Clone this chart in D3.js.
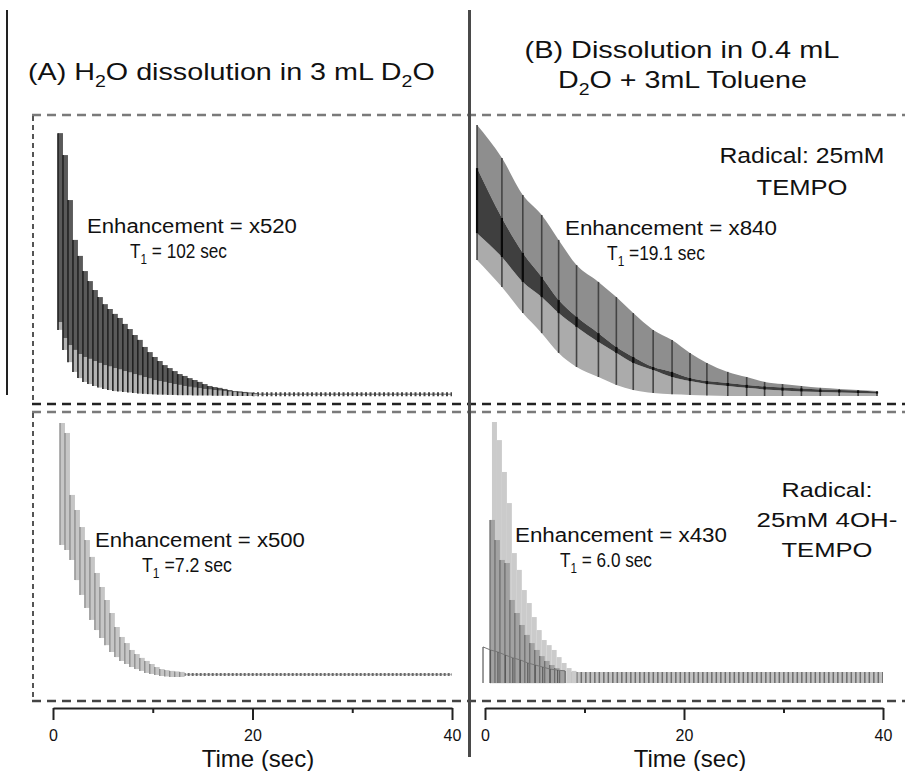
<!DOCTYPE html>
<html><head><meta charset="utf-8">
<script src="https://cdnjs.cloudflare.com/ajax/libs/d3/7.8.5/d3.min.js"></script>
<style>html,body{margin:0;padding:0;background:#fff;} svg{display:block;} text{font-family:"Liberation Sans",Arial,Helvetica,sans-serif;}</style>
</head><body><svg id="c" width="905" height="771"></svg>
<script>
// ---------- DATA ----------
const xTicks = [0, 10, 20, 30, 40];
const xTickLabels = ["0", "", "20", "", "40"];
const majorTicks = [0, 20, 40];
const xLabel = "Time (sec)";

// Panel A top: H2O in 3 mL D2O (spectra every ~0.5 s)
const aTopT  = [0.5,1,1.5,2,2.5,3,3.5,4,4.5,5,5.5,6,6.5,7,7.5,8,8.5,9,9.5,10,10.5,11,11.5,12,12.5,13,13.5,14,14.5,15,15.5,16,16.5,17,17.5,18,18.5,19,19.5,20];
const aTopHi = [97.0,88.9,72.3,57.6,51.7,46.1,42.4,39.1,36.5,33.9,32.1,30.3,28.8,26.6,24.7,22.5,20.7,18.1,16.2,14.4,12.9,11.4,10.3,9.2,8.1,7.4,6.6,5.9,5.2,4.4,3.7,3.3,3.0,2.6,2.2,1.8,1.7,1.5,1.3,1.1];
const aTopLo = [27.3,21.4,18.8,17.0,15.5,14.4,13.7,12.9,12.2,11.4,10.9,10.3,9.8,9.2,8.7,8.1,7.6,7.0,6.5,5.9,5.5,5.2,4.8,4.4,4.1,3.7,3.4,3.1,2.9,2.6,2.4,2.2,2.0,1.8,1.6,1.4,1.2,1.0,0.9,0.8];
const aTopFl = [24.4,17.0,12.5,8.9,6.6,5.2,4.4,3.7,3.1,2.6,2.2,1.8,1.7,1.5,1.3,1.1,0.9,0.8,0.7,0.6,0.5,0.5,0.4,0.4,0.3,0.3,0.3,0.2,0.2,0.2,0.2,0.1,0.1,0.1,0.1,0,0,0,0,0];
const aTopTail = [20, 40, 0.6];

// Panel A bottom
const aBotT  = [0.7,1.2,1.7,2.2,2.7,3.2,3.7,4.2,4.7,5.2,5.7,6.2,6.7,7.2,7.7,8.2,8.7,9.2,9.7,10.2,10.7,11.2,11.7,12.2,12.7];
const aBotHi = [99.6,95.7,71.4,65.5,58.8,53.7,47.1,40.8,35.3,30.2,25.1,19.6,15.7,13.3,10.6,9.0,7.5,6.3,5.1,3.9,3.1,2.7,2.4,2.2,2.0];
const aBotLo = [51.8,49.8,45.9,38.0,32.2,27.1,22.4,18.4,15.3,12.5,9.8,7.8,6.3,5.1,3.9,3.1,2.4,1.6,1.2,0.8,0.4,0.2,0,0,0];
const aBotTail = [12.7, 40, 1.0];

// Panel B top: three bands
const bTopT   = [-0.8,1.7,3.8,5.7,7.4,9.2,11.4,13.2,14.9,16.9,18.8,20.6,22.3,24.4,26.3,28.1,29.9,31.8,33.7,35.6,37.5,39.4];
const bTopHi  = [100,87.8,74.2,66.8,57.6,48.3,42.1,36.5,30.6,24.4,20.7,15.9,12.2,8.9,7.0,5.2,4.4,3.7,3.0,2.6,2.2,1.8];
const bTopDkT = [84.1,65.7,52.8,43.9,35.4,29.2,23.2,18.1,14.4,10.7,8.9,6.6,5.5,4.8,4.1,3.5,3.1,2.8,2.4,2.2,2.0,1.6];
const bTopDkB = [60.1,51.3,42.1,36.5,30.6,25.5,19.9,15.9,12.2,9.6,7.0,5.5,4.4,3.7,3.0,2.4,2.0,1.7,1.5,1.3,1.1,0.9];
const bTopLo  = [50.2,40.2,30.6,23.2,15.9,10.7,7.0,4.1,2.2,1.1,0.6,0.4,0.2,0,0,0,0,0,0,0,0,0];

// Panel B bottom
const bBotLT = [0.7,1.2,1.7,2.2,2.7,3.2,3.7,4.2,4.7,5.2,5.7,6.2,6.7,7.2,7.7,8.2,8.7];
const bBotL  = [100,92.9,80.4,68.2,48.6,42.0,34.1,29.0,23.5,18.4,14.5,12.5,10.6,7.8,5.5,3.5,2.4];
const bBotMT = [0.5,1,1.5,2,2.5,3,3.5,4,4.5,5,5.5,6,6.5,7,7.5];
const bBotM  = [61.6,53.7,45.9,44.7,30.2,25.1,20.4,16.5,13.3,10.6,8.2,6.3,4.7,3.5,2.7];
const bBotDT = [-0.2,0.55,1.3,2.05,2.8,3.55,4.3,5.05,5.8,6.55,7.3,8.05];
const bBotD  = [11.8,10.6,9.8,8.6,7.5,6.7,5.5,4.7,3.9,3.1,2.7,2.4];
const bBotFloor = -2.4;
const bBotNoise = [8.7, 40, -2.4, 2.0];

// ---------- DRAW ----------
const svg = d3.select('#c');
const xL = d3.scaleLinear().domain([0,40]).range([53,452]);
const xR = d3.scaleLinear().domain([0,40]).range([485,883]);
const yT = d3.scaleLinear().domain([0,100]).range([396,125]);
const yB = d3.scaleLinear().domain([0,100]).range([677,422]);

// frames
const fr = svg.append('g');
function hdash(y,x1,x2,c,w){fr.append('line').attr('x1',x1).attr('x2',x2).attr('y1',y).attr('y2',y).attr('stroke',c).attr('stroke-width',w).attr('stroke-dasharray','9,6');}
function vdash(x,y1,y2){fr.append('line').attr('x1',x).attr('x2',x).attr('y1',y1).attr('y2',y2).attr('stroke','#555').attr('stroke-width',2).attr('stroke-dasharray','5,4');}
hdash(115,32,905,'#7a7a7a',2.5);
hdash(404,32,905,'#222',2.5);
hdash(412,32,905,'#7a7a7a',2.5);
hdash(701,32,905,'#444',2.5);
vdash(33,116,403); vdash(33,413,700);
fr.append('line').attr('x1',469.5).attr('x2',469.5).attr('y1',10).attr('y2',757).attr('stroke','#4a4a4a').attr('stroke-width',3);
fr.append('line').attr('x1',7).attr('x2',7).attr('y1',10).attr('y2',395).attr('stroke','#222').attr('stroke-width',2);

function stepW(T,i,x){ const t2 = i<T.length-1 ? T[i+1] : T[i]+(T[i]-T[i-1]); return x(t2)-x(T[i]); }

// Panel A top
const gA1 = svg.append('g');
gA1.append('line').attr('x1',xL(aTopTail[0])).attr('x2',xL(aTopTail[1])).attr('y1',yT(aTopTail[2])).attr('y2',yT(aTopTail[2])).attr('stroke','#999').attr('stroke-width',1.5);
gA1.append('line').attr('x1',xL(aTopTail[0])).attr('x2',xL(aTopTail[1])).attr('y1',yT(aTopTail[2])).attr('y2',yT(aTopTail[2])).attr('stroke','#444').attr('stroke-width',4).attr('stroke-dasharray','2,2.5');
aTopT.forEach((t,i)=>{
  const w = stepW(aTopT,i,xL);
  gA1.append('rect').attr('x',xL(t)).attr('width',w).attr('y',yT(aTopLo[i])).attr('height',yT(aTopFl[i])-yT(aTopLo[i])).attr('fill','#b3b3b3');
  gA1.append('rect').attr('x',xL(t)).attr('width',w).attr('y',yT(aTopHi[i])).attr('height',yT(aTopLo[i])-yT(aTopHi[i])).attr('fill','#5a5a5a');
});
aTopT.forEach((t,i)=>{
  gA1.append('line').attr('x1',xL(t)).attr('x2',xL(t)).attr('y1',yT(aTopHi[i])).attr('y2',yT(aTopFl[i])).attr('stroke','#222').attr('stroke-width',1.6);
});

// Panel A bottom
const gA2 = svg.append('g');
gA2.append('line').attr('x1',xL(aBotTail[0])).attr('x2',xL(aBotTail[1])).attr('y1',yB(aBotTail[2])).attr('y2',yB(aBotTail[2])).attr('stroke','#bbb').attr('stroke-width',1.5);
gA2.append('line').attr('x1',xL(aBotTail[0])).attr('x2',xL(aBotTail[1])).attr('y1',yB(aBotTail[2])).attr('y2',yB(aBotTail[2])).attr('stroke','#6a6a6a').attr('stroke-width',3).attr('stroke-dasharray','2,2');
aBotT.forEach((t,i)=>{
  const w = stepW(aBotT,i,xL);
  gA2.append('rect').attr('x',xL(t)).attr('width',w).attr('y',yB(aBotHi[i])).attr('height',yB(aBotLo[i])-yB(aBotHi[i])).attr('fill','#c6c6c6');
});
aBotT.forEach((t,i)=>{
  gA2.append('line').attr('x1',xL(t)).attr('x2',xL(t)).attr('y1',yB(aBotHi[i])).attr('y2',yB(aBotLo[i])).attr('stroke','#8a8a8a').attr('stroke-width',1.3);
});

// Panel B top
const gB1 = svg.append('g');
const idx = d3.range(bTopT.length);
const ar = (a0,a1)=>d3.area().x(i=>xR(bTopT[i])).y0(i=>yT(a0[i])).y1(i=>yT(a1[i])).curve(d3.curveMonotoneX);
gB1.append('path').attr('d',ar(bTopDkT,bTopHi)(idx)).attr('fill','#8e8e8e');
gB1.append('path').attr('d',ar(bTopLo,bTopDkB)(idx)).attr('fill','#ababab');
gB1.append('path').attr('d',ar(bTopDkB,bTopDkT)(idx)).attr('fill','#3f3f3f');
bTopT.forEach((t,i)=>{
  gB1.append('line').attr('x1',xR(t)).attr('x2',xR(t)).attr('y1',yT(bTopHi[i])).attr('y2',yT(bTopLo[i])).attr('stroke','#444').attr('stroke-width',1.6);
  gB1.append('line').attr('x1',xR(t)).attr('x2',xR(t)).attr('y1',yT(bTopDkT[i])).attr('y2',yT(bTopDkB[i])).attr('stroke','#0a0a0a').attr('stroke-width',2.2);
});

// Panel B bottom
const gB2 = svg.append('g');
const nY = (yB(bBotNoise[2])+yB(bBotNoise[3]))/2, nW = yB(bBotNoise[2])-yB(bBotNoise[3]);
gB2.append('line').attr('x1',xR(bBotNoise[0])).attr('x2',xR(bBotNoise[1])).attr('y1',nY).attr('y2',nY).attr('stroke','#c2c2c2').attr('stroke-width',nW);
gB2.append('line').attr('x1',xR(bBotNoise[0])).attr('x2',xR(bBotNoise[1])).attr('y1',nY).attr('y2',nY).attr('stroke','#6e6e6e').attr('stroke-width',nW).attr('stroke-dasharray','1.5,3');
bBotLT.forEach((t,i)=>{
  const w = stepW(bBotLT,i,xR);
  gB2.append('rect').attr('x',xR(t)).attr('width',w).attr('y',yB(bBotL[i])).attr('height',yB(bBotFloor)-yB(bBotL[i])).attr('fill','#cbcbcb');
});
bBotMT.forEach((t,i)=>{
  const w = stepW(bBotMT,i,xR);
  gB2.append('rect').attr('x',xR(t)).attr('width',w).attr('y',yB(bBotM[i])).attr('height',yB(bBotFloor)-yB(bBotM[i])).attr('fill','#a2a2a2');
  gB2.append('line').attr('x1',xR(t)).attr('x2',xR(t)).attr('y1',yB(bBotM[i])).attr('y2',yB(bBotFloor)).attr('stroke','#6a6a6a').attr('stroke-width',1.2);
});
gB2.append('path').attr('d',d3.line().x(i=>xR(bBotDT[i])).y(i=>yB(bBotD[i]))(d3.range(bBotDT.length))).attr('fill','none').attr('stroke','#777').attr('stroke-width',1);
bBotDT.forEach((t,i)=>{
  gB2.append('line').attr('x1',xR(t)).attr('x2',xR(t)).attr('y1',yB(bBotD[i])).attr('y2',yB(bBotFloor)).attr('stroke','#5a5a5a').attr('stroke-width',1.2);
});

// axes
function drawAxis(x, cx){
  const ax = d3.axisBottom(x).tickValues(xTicks).tickSizeOuter(0).tickSize(0).tickFormat((d,i)=>xTickLabels[i]);
  const g = svg.append('g').attr('transform','translate(0,708)').call(ax);
  g.select('.domain').attr('stroke','#222').attr('stroke-width',2);
  g.selectAll('.tick line').attr('y2',d=>majorTicks.includes(d)?12:5).attr('stroke','#222').attr('stroke-width',2);
  g.selectAll('.tick text').attr('y',33).attr('dy',0).attr('font-size',16).attr('fill','#111').attr('font-family','"Liberation Sans",Arial,sans-serif');
  svg.append('text').attr('x',cx).attr('y',767).attr('text-anchor','middle').attr('font-size',24).attr('fill','#111').text(xLabel);
}
drawAxis(xL, 258);
drawAxis(xR, 690);

// texts
function fitText(parts, x, y, size, width, anchor){
  const t = svg.append('text').attr('font-size',size).attr('fill','#111');
  let shift = 0;
  parts.forEach(p=>{
    if (typeof p === 'string'){ const s=t.append('tspan').text(p); if(shift){s.attr('dy',-shift); shift=0;} }
    else { shift = size*0.28; t.append('tspan').attr('font-size',size*0.68).attr('dy',shift).text(p.sub); }
  });
  const bb = t.node().getBBox();
  const sx = width/bb.width;
  const left = anchor==='middle' ? x-width/2 : x;
  t.attr('transform',`translate(${left-bb.x*sx},${y}) scale(${sx},1)`);
}
fitText(["(A) H",{sub:"2"},"O dissolution in 3 mL D",{sub:"2"},"O"], 28, 80, 24, 407);
fitText(["(B) Dissolution in 0.4 mL"], 682, 58, 24, 315, 'middle');
fitText(["D",{sub:"2"},"O + 3mL Toluene"], 682.5, 88, 24, 249, 'middle');
fitText(["Radical: 25mM"], 802, 163, 22, 165, 'middle');
fitText(["TEMPO"], 802, 195, 22, 91, 'middle');
fitText(["Enhancement = x520"], 87, 233, 21, 210);
fitText(["T",{sub:"1"}," = 102 sec"], 130, 258, 21, 97);
fitText(["Enhancement = x840"], 565, 235, 21, 212);
fitText(["T",{sub:"1"}," =19.1 sec"], 607, 260, 21, 98);
fitText(["Enhancement = x500"], 95, 547, 21, 210);
fitText(["T",{sub:"1"}," =7.2 sec"], 142, 572, 21, 90);
fitText(["Enhancement = x430"], 515, 542, 21, 212);
fitText(["T",{sub:"1"}," = 6.0 sec"], 560, 567, 21, 92);
fitText(["Radical:"], 827, 497, 21, 91, 'middle');
fitText(["25mM 4OH-"], 827, 527, 21, 141, 'middle');
fitText(["TEMPO"], 827, 557, 21, 91, 'middle');
</script></body></html>
